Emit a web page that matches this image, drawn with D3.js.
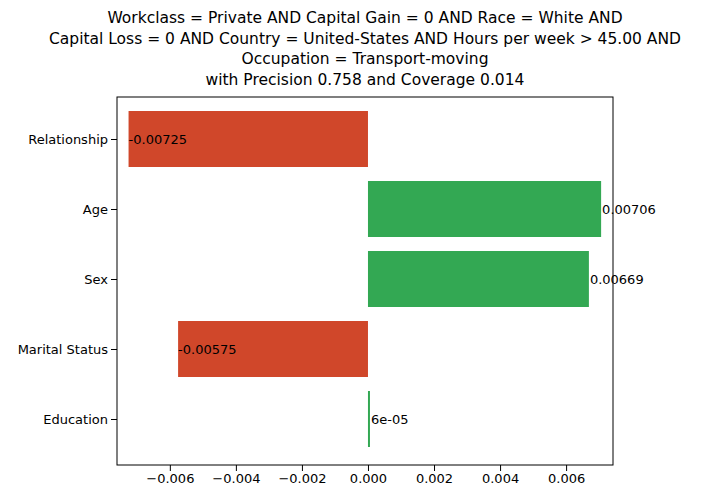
<!DOCTYPE html>
<html><head><meta charset="utf-8">
<script src="https://cdn.jsdelivr.net/npm/d3@7"></script>
<style>body{margin:0;background:#fff}text{font-family:"DejaVu Sans",sans-serif}</style>
</head><body>
<svg id="chart" width="715" height="498"></svg>
<script>
const features = ["Relationship", "Age", "Sex", "Marital Status", "Education"];
const weights = [-0.00725, 0.00706, 0.00669, -0.00575, 0.00006];
const labels = ["-0.00725", "0.00706", "0.00669", "-0.00575", "6e-05"];
const xTicks = [-0.006, -0.004, -0.002, 0, 0.002, 0.004, 0.006];
const titleLines = [
  "Workclass = Private AND Capital Gain = 0 AND Race = White AND",
  "Capital Loss = 0 AND Country = United-States AND Hours per week > 45.00 AND",
  "Occupation = Transport-moving",
  "with Precision 0.758 and Coverage 0.014"
];

const svg = d3.select("#chart");
const mLeft = 117, mRight = 613, mTop = 97, mBottom = 465;

// Scales
const x = d3.scaleLinear().domain([-0.0076, 0.00742]).range([mLeft, mRight]);
const y = d3.scaleLinear().domain([0, 4]).range([139, 419]);
const barH = 56;

// Bars
svg.selectAll("rect.bar").data(weights).enter().append("rect")
  .attr("x", d => x(Math.min(0, d)))
  .attr("width", d => Math.max(1, Math.abs(x(d) - x(0))))
  .attr("y", (d, i) => y(i) - barH / 2)
  .attr("height", barH)
  .attr("fill", d => d < 0 ? "#d0472a" : "#33a853");

// Value labels
svg.selectAll("text.val").data(weights).enter().append("text")
  .attr("x", d => x(d) + (d < 0 ? 0 : 1))
  .attr("y", (d, i) => y(i))
  .attr("dy", "0.35em")
  .attr("font-size", 13)
  .text((d, i) => labels[i]);

// Axes
svg.append("g").attr("transform", `translate(0,${mBottom})`)
  .call(d3.axisBottom(x).tickValues(xTicks).tickFormat(d3.format(".3f")).tickSizeOuter(0))
  .call(g => g.selectAll("text").attr("font-size", 13).attr("fill", "#000"))
  .call(g => g.select(".domain").remove());
svg.append("g").attr("transform", `translate(${mLeft},0)`)
  .call(d3.axisLeft(y).tickValues([0,1,2,3,4]).tickFormat(i => features[i]).tickSizeOuter(0))
  .call(g => g.selectAll("text").attr("font-size", 13).attr("fill", "#000"))
  .call(g => g.select(".domain").remove());

svg.append("rect").attr("x", mLeft).attr("y", mTop)
  .attr("width", mRight - mLeft).attr("height", mBottom - mTop)
  .attr("fill", "none").attr("stroke", "#000").attr("stroke-width", 1);

// Title
svg.selectAll("text.title").data(titleLines).enter().append("text")
  .attr("x", 365).attr("y", (d, i) => 23 + i * 20.5)
  .attr("text-anchor", "middle").attr("font-size", 15.5)
  .text(d => d);
</script>
</body></html>
